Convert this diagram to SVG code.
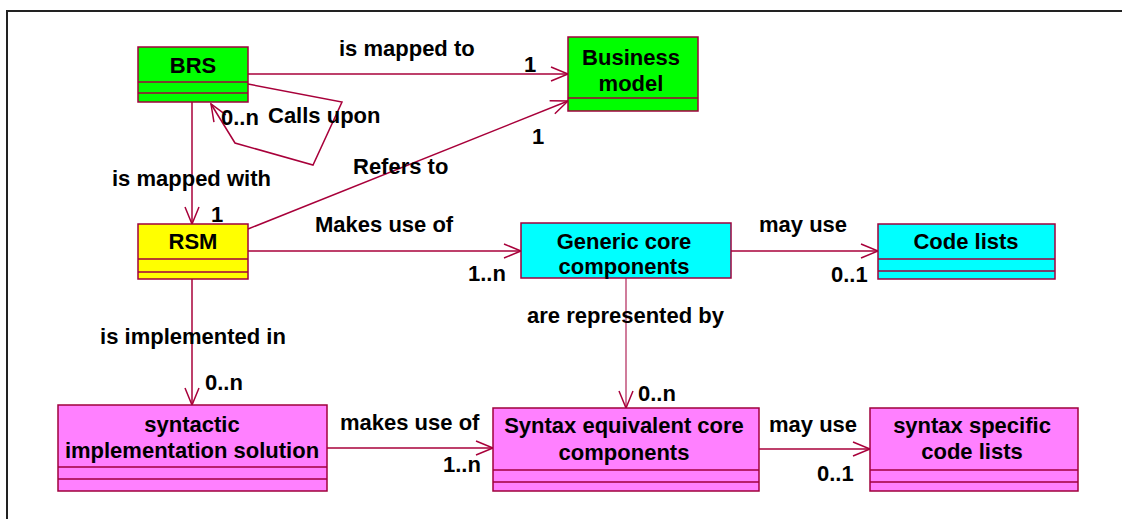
<svg xmlns="http://www.w3.org/2000/svg" width="1122" height="519" viewBox="0 0 1122 519">
<style>
text{font-family:"Liberation Sans",Arial,sans-serif;font-weight:bold;font-size:22px;fill:#000}
.box{stroke:#A0003C;stroke-width:1.5}
.div{stroke:#A0003C;stroke-width:1.5}
.c{fill:none;stroke:#A8003A;stroke-width:1.5}
.m{text-anchor:middle}
.g{fill:#00FF00}.y{fill:#FFFF00}.cy{fill:#00FFFF}.p{fill:#FF80FF}
</style>
<defs>
<marker id="a" markerUnits="userSpaceOnUse" markerWidth="20" markerHeight="18" refX="17" refY="8" orient="auto" overflow="visible">
<path d="M0,1 L17,8 L0,15" fill="none" stroke="#A8003A" stroke-width="1.5"/>
</marker>
</defs>
<rect x="0" y="0" width="1122" height="519" fill="#fff"/>
<path d="M7,519 L7,11 L1122,11" fill="none" stroke="#222" stroke-width="2"/>
<g id="connectors">
<line class="c" x1="248" y1="74" x2="568" y2="74" marker-end="url(#a)"/>
<polyline class="c" points="248,84 342,102 313,165 235,143 211,104" marker-end="url(#a)"/>
<line class="c" x1="192" y1="102" x2="192" y2="224" marker-end="url(#a)"/>
<line class="c" x1="248" y1="229" x2="568" y2="101" marker-end="url(#a)"/>
<line class="c" x1="248" y1="251" x2="521" y2="251" marker-end="url(#a)"/>
<line class="c" x1="731" y1="251" x2="878" y2="251" marker-end="url(#a)"/>
<line class="c" x1="192" y1="279" x2="192" y2="405" marker-end="url(#a)"/>
<line class="c" x1="626" y1="278" x2="626" y2="408" style="stroke:#C0507A" marker-end="url(#a)"/>
<line class="c" x1="327" y1="448" x2="493" y2="448" marker-end="url(#a)"/>
<line class="c" x1="759" y1="449" x2="870" y2="449" marker-end="url(#a)"/>
<text x="339" y="56">is mapped to</text>
<text x="524" y="72">1</text>
<text x="268" y="123">Calls upon</text>
<text x="221" y="125">0..n</text>
<text x="112" y="186">is mapped with</text>
<text x="211" y="222">1</text>
<text x="353" y="174">Refers to</text>
<text x="532" y="144">1</text>
<text x="315" y="232">Makes use of</text>
<text x="468" y="281">1..n</text>
<text x="759" y="232">may use</text>
<text x="831" y="282">0..1</text>
<text x="527" y="323">are represented by</text>
<text x="638" y="401">0..n</text>
<text x="193" y="344" class="m">is implemented in</text>
<text x="205" y="390">0..n</text>
<text x="340" y="430">makes use of</text>
<text x="443" y="472">1..n</text>
<text x="769" y="432">may use</text>
<text x="817" y="481">0..1</text>
</g>
<g id="BRS">
<rect class="box g" x="138" y="47" width="110" height="55"/>
<line class="div" x1="138" y1="82" x2="248" y2="82"/>
<line class="div" x1="138" y1="93" x2="248" y2="93"/>
<text x="193" y="73" class="m">BRS</text>
</g>
<g id="BusinessModel">
<rect class="box g" x="568" y="37" width="130" height="74"/>
<line class="div" x1="568" y1="98" x2="698" y2="98"/>
<text x="631" y="65" class="m">Business</text>
<text x="631" y="91" class="m">model</text>
</g>
<g id="RSM">
<rect class="box y" x="138" y="224" width="110" height="55"/>
<line class="div" x1="138" y1="259" x2="248" y2="259"/>
<line class="div" x1="138" y1="272" x2="248" y2="272"/>
<text x="193" y="249" class="m">RSM</text>
</g>
<g id="GenericCoreComponents">
<rect class="box cy" x="521" y="223" width="210" height="55"/>
<text x="624" y="249" class="m">Generic core</text>
<text x="624" y="274" class="m">components</text>
</g>
<g id="CodeLists">
<rect class="box cy" x="878" y="224" width="177" height="55"/>
<line class="div" x1="878" y1="259" x2="1055" y2="259"/>
<line class="div" x1="878" y1="271" x2="1055" y2="271"/>
<text x="966" y="249" class="m">Code lists</text>
</g>
<g id="SyntacticImplementationSolution">
<rect class="box p" x="58" y="405" width="269" height="86"/>
<line class="div" x1="58" y1="467" x2="327" y2="467"/>
<line class="div" x1="58" y1="479" x2="327" y2="479"/>
<text x="192" y="432" class="m">syntactic</text>
<text x="192" y="458" class="m">implementation solution</text>
</g>
<g id="SyntaxEquivalentCoreComponents">
<rect class="box p" x="493" y="408" width="266" height="83"/>
<line class="div" x1="493" y1="470" x2="759" y2="470"/>
<line class="div" x1="493" y1="482" x2="759" y2="482"/>
<text x="624" y="433" class="m">Syntax equivalent core</text>
<text x="624" y="460" class="m">components</text>
</g>
<g id="SyntaxSpecificCodeLists">
<rect class="box p" x="870" y="408" width="208" height="83"/>
<line class="div" x1="870" y1="470" x2="1078" y2="470"/>
<line class="div" x1="870" y1="482" x2="1078" y2="482"/>
<text x="972" y="433" class="m">syntax specific</text>
<text x="972" y="459" class="m">code lists</text>
</g>
</svg>
